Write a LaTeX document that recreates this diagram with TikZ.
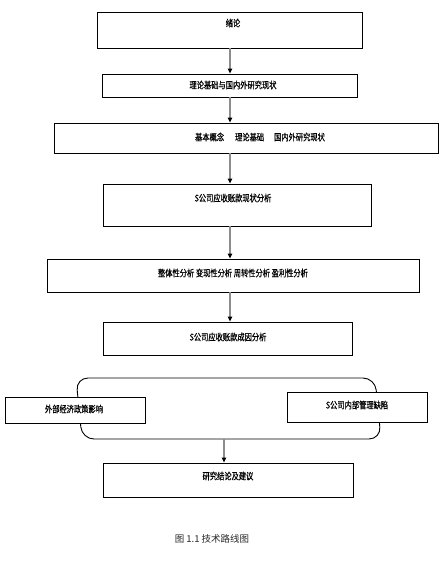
\documentclass[tikz,border=0pt]{standalone}
\usepackage{fontspec}
\usetikzlibrary{arrows.meta}
\newfontfamily\cjk{Noto Sans CJK SC}[FakeStretch=0.78,FakeBold=0.6]
\newfontfamily\cjkcap{Noto Sans CJK SC}
\tikzset{
  box/.style={draw=black, line width=0.9pt, fill=white, inner sep=0pt},
  lbl/.style={font=\cjk\fontsize{9.3}{10}\selectfont, text=black, inner sep=0pt},
  arr/.style={draw=black!45, line width=1.2pt, -{Triangle[length=5pt,width=4.5pt,color=black]}},
}
\begin{document}
\begin{tikzpicture}[x=1pt,y=-1pt]
\useasboundingbox (0,0) rectangle (446,563);
% main boxes
\node[box, minimum width=265pt, minimum height=36pt] (b1) at (229.5,30) {};
\node[box, minimum width=255pt, minimum height=23pt] (b2) at (229.5,85.5) {};
\node[box, minimum width=384pt, minimum height=30pt] (b3) at (246,138) {};
\node[box, minimum width=268pt, minimum height=42pt] (b4) at (237,205) {};
\node[box, minimum width=372pt, minimum height=33pt] (b5) at (233,275.5) {};
\node[box, minimum width=249pt, minimum height=33pt] (b6) at (227.5,338.5) {};
% rounded frame
\draw[line width=0.9pt, rounded corners=12pt] (76,378) -- (375,378) -- (381,439) -- (82,439) -- cycle;
\coordinate (rr) at (224,439);
\node[box, minimum width=140pt, minimum height=26pt] (L) at (75,410) {};
\node[box, minimum width=140pt, minimum height=30pt] (R) at (357,407) {};
\node[box, minimum width=250pt, minimum height=34pt] (b7) at (228,480) {};
% labels
\node[lbl] (t1) at (233,23) {绪论};
\node[lbl] (t2) at (233,85) {理论基础与国内外研究现状};
\node[lbl] (t3) at (260,137) {基本概念\hspace{11pt}理论基础\hspace{10pt}国内外研究现状};
\node[lbl] (t4) at (233,198) {S公司应收账款现状分析};
\node[lbl] (t5) at (233,273) {整体性分析 变现性分析 周转性分析 盈利性分析};
\node[lbl] (t6) at (228,337) {S公司应收账款成因分析};
\node[lbl] (tL) at (74,409) {外部经济政策影响};
\node[lbl] (tR) at (357,405) {S公司内部管理缺陷};
\node[lbl] (t7) at (228,476) {研究结论及建议};
\node[font=\cjkcap\fontsize{9.5}{10}\selectfont, text=black!85, inner sep=0pt] (cap) at (212,539) {图 1.1 技术路线图};
% connectors
\coordinate (ax) at (230,0);
\draw[arr] (b1.south -| ax) -- (b2.north -| ax);
\draw[arr] (b2.south -| ax) -- (b3.north -| ax);
\draw[arr] (b3.south -| ax) -- (b4.north -| ax);
\draw[arr] (b4.south -| ax) -- (b5.north -| ax);
\draw[arr] (b5.south -| ax) -- (b6.north -| ax);
\draw[arr] (rr) -- (rr |- b7.north);
\end{tikzpicture}
\end{document}
